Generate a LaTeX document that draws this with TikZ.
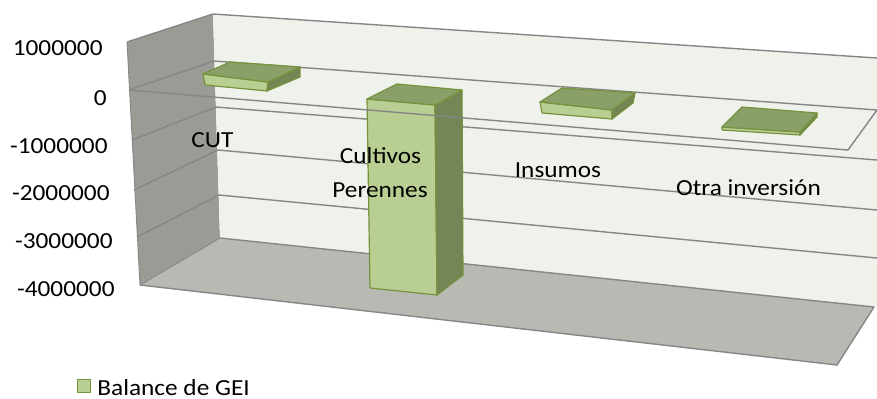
\documentclass[tikz,border=0pt]{standalone}
\usepackage{fontspec}
\setmainfont{Carlito}[FakeStretch=1.1]
\definecolor{sidewall}{RGB}{153,155,148}
\definecolor{backwall}{RGB}{239,242,235}
\definecolor{floorc}{RGB}{183,185,178}
\definecolor{gridc}{RGB}{134,134,134}
\definecolor{barfront}{RGB}{185,206,146}
\definecolor{bartop}{RGB}{139,160,104}
\definecolor{barside}{RGB}{116,134,86}
\definecolor{barline}{RGB}{118,146,60}
\begin{document}
\begin{tikzpicture}[x=0.5pt,y=-0.5pt,
  font=\fontsize{11.5}{13.8}\selectfont,
  grid/.style={draw=gridc, line width=0.7pt},
  edge/.style={draw=gridc, line width=0.45pt},
  face/.style={draw=barline, line width=0.6pt, line join=round},
  lbl/.style={inner sep=0pt, anchor=base},
  tick/.style={inner sep=0pt, anchor=base east}]
\useasboundingbox (0,0) rectangle (877,398);

% walls and floor
\fill[sidewall] (127,42) -- (213,14) -- (220,238) -- (140,285) -- cycle;
\fill[backwall] (213,14) -- (877,58) -- (877,307) -- (220,238) -- cycle;
\fill[floorc] (140,285) -- (220,238) -- (874,307) -- (837,365) -- cycle;
\draw[edge] (127,42) -- (140,285);
\draw[edge] (140,285) -- (220,238);

% gridlines (side wall + back wall)
\draw[grid] (127,42) -- (213,14) -- (877,58);
\draw[grid] (129,90) -- (214,61) -- (877,110);
\draw[grid] (132,140) -- (216,107) -- (877,160);
\draw[grid] (134,190) -- (218,150) -- (877,210);
\draw[grid] (137,237) -- (219,195) -- (877,258);
\draw[grid] (220,238) -- (874,307);
\draw[grid] (140,285) -- (837,365) -- (874,307);

% bars
% CUT
\filldraw[face, fill=barfront] (203,74) -- (268,82) -- (267,91) -- (205,85) -- cycle;
\filldraw[face, fill=barside] (268,82) -- (300,67) -- (300,77) -- (267,91) -- cycle;
\filldraw[face, fill=bartop] (203,74) -- (230,62) -- (300,67) -- (268,82) -- cycle;
% Cultivos Perennes
\filldraw[face, fill=barfront] (367,99) -- (435,105) -- (437,295) -- (370,288) -- cycle;
\filldraw[face, fill=barside] (435,105) -- (462,90) -- (463,275) -- (437,295) -- cycle;
\filldraw[face, fill=bartop] (367,99) -- (397,84) -- (462,90) -- (435,105) -- cycle;
% Insumos
\filldraw[face, fill=barfront] (540,102) -- (612,110) -- (612,119) -- (542,113) -- cycle;
\filldraw[face, fill=barside] (612,110) -- (635,93) -- (633,103) -- (612,119) -- cycle;
\filldraw[face, fill=bartop] (540,102) -- (562,88) -- (635,93) -- (612,110) -- cycle;
% Otra inversion
\filldraw[face, fill=barfront] (722,127) -- (800,132) -- (800,135) -- (722,130) -- cycle;
\filldraw[face, fill=barside] (800,132) -- (817,113) -- (817,117) -- (800,135) -- cycle;
\filldraw[face, fill=bartop] (722,127) -- (742,107) -- (817,113) -- (800,132) -- cycle;

% zero plane front and right edges
\draw[grid] (129,90) -- (848,150) -- (877,110);

% value axis labels
\node[tick] (t1) at (103,55) {1000000};
\node[tick] (t0) at (107,105) {0};
\node[tick] (tm1) at (108,153) {-1000000};
\node[tick] (tm2) at (110,200.5) {-2000000};
\node[tick] (tm3) at (113,248) {-3000000};
\node[tick] (tm4) at (115,296.5) {-4000000};

% category labels
\node[lbl] (cut) at (212.5,147) {CUT};
\node[lbl] (cul) at (380.5,163) {Cultivos};
\node[lbl] (per) at (380,197) {Perennes};
\node[lbl] (ins) at (558,177) {Insumos};
\node[lbl] (otr) at (748.5,195) {Otra inversión};

% legend
\node[draw=barline, fill=barfront, line width=0.6pt, inner sep=0pt,
      minimum width=6.5pt, minimum height=6.5pt] (key) at (84,386) {};
\node[lbl, anchor=base west] (leg) at (97,395) {Balance de GEI};
\end{tikzpicture}
\end{document}
